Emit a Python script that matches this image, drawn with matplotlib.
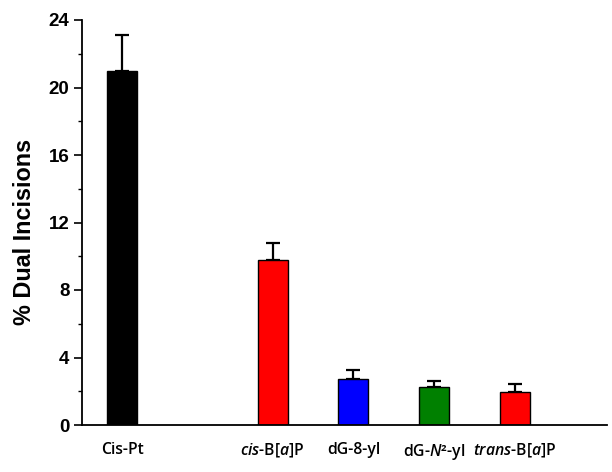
import matplotlib
matplotlib.use("Agg")
import matplotlib.pyplot as plt
from matplotlib.ticker import MultipleLocator

categories = ["Cis-Pt", r"$\mathit{cis}$-B[$\mathit{a}$]P", "dG-8-yl",
              r"dG-$\mathit{N}$²-yl", r"$\mathit{trans}$-B[$\mathit{a}$]P"]
values = [21.0, 9.8, 2.75, 2.25, 1.95]
errors = [2.1, 1.0, 0.5, 0.35, 0.5]
colors = ["#000000", "#ff0000", "#0000ff", "#008000", "#ff0000"]
positions = [0, 1.86, 2.86, 3.86, 4.86]

plt.rcParams["mathtext.fontset"] = "custom"
plt.rcParams["mathtext.rm"] = "Open Sans:semibold"
plt.rcParams["mathtext.it"] = "Open Sans:italic:semibold"
plt.rcParams["mathtext.bf"] = "Open Sans:bold"

fig = plt.figure(figsize=(6.12, 4.72), dpi=100)
ax = fig.add_axes([82/612, 1-425/472, (607-82)/612, (425-20)/472])

ax.bar(positions, values, width=0.37, color=colors, edgecolor="black",
       linewidth=1.0, zorder=2)
ax.errorbar(positions, values, yerr=[[0]*len(values), errors], fmt="none",
            ecolor="black", elinewidth=1.6, capsize=5, capthick=1.6, zorder=1)

ax.set_xlim(-0.5, 6.0)
ax.set_ylim(0, 24)
ax.yaxis.set_major_locator(MultipleLocator(4))
ax.yaxis.set_minor_locator(MultipleLocator(2))
ax.set_xticks(positions)
ax.set_xticklabels(categories, fontfamily="Open Sans", fontweight="semibold", fontsize=11.3)
ax.tick_params(axis="x", length=0, pad=12)
ax.tick_params(axis="y", which="major", length=6, width=1.2, direction="out",
               labelsize=13.5, pad=3)
ax.tick_params(axis="y", which="minor", length=3, width=1.0, direction="out")
for lab in ax.get_yticklabels():
    lab.set_fontweight("bold")
    lab.set_fontfamily("Liberation Sans")

for s in ["top", "right"]:
    ax.spines[s].set_visible(False)
for s in ["left", "bottom"]:
    ax.spines[s].set_linewidth(1.3)

ax.set_ylabel("% Dual Incisions", fontfamily="Liberation Sans", fontweight="bold",
              fontsize=16.8)
ax.yaxis.set_label_coords(-0.088, 0.477)

fig.savefig("out.png", dpi=100)
